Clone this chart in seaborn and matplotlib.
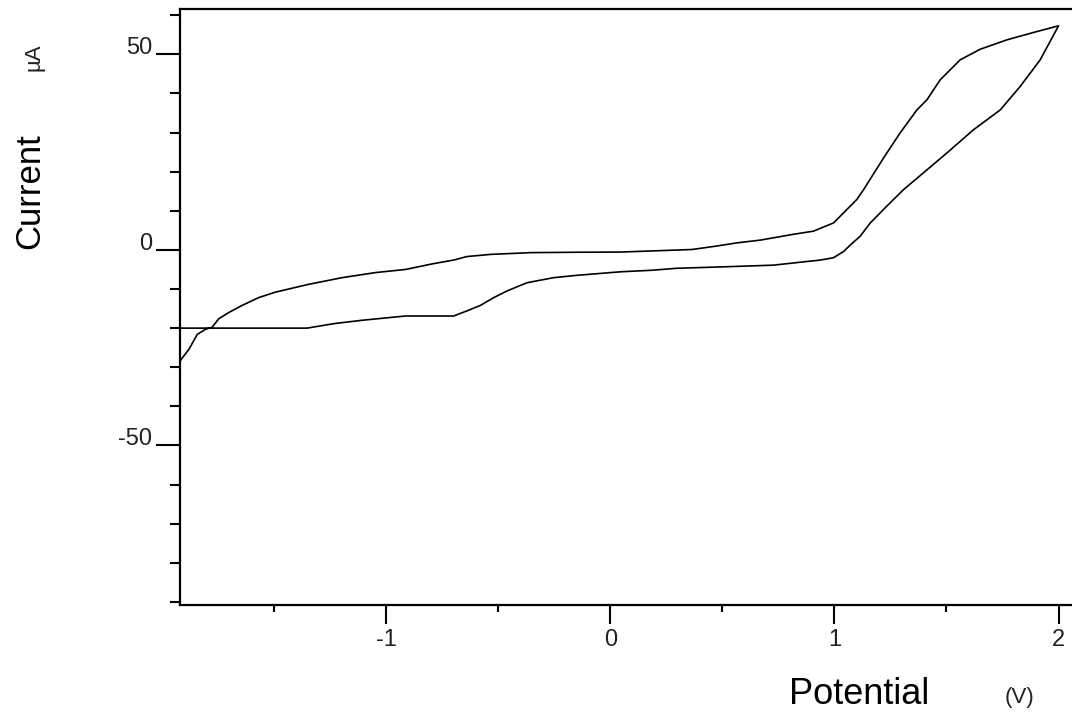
import matplotlib
matplotlib.use("Agg")
import matplotlib.pyplot as plt
from matplotlib.ticker import MultipleLocator
import numpy as np
import pandas as pd
import seaborn as sns

# Cyclic voltammogram: forward (anodic) sweep then reverse sweep
forward_potential = [-1.92, -1.88, -1.843, -1.806, -1.777, -1.747, -1.702, -1.643,
                     -1.569, -1.494, -1.346, -1.197, -1.048, -0.914, -0.788, -0.699,
                     -0.640, -0.535, -0.357, -0.150, 0.045, 0.364, 0.476, 0.565,
                     0.669, 0.818, 0.907, 0.996, 1.041, 1.100, 1.130, 1.219, 1.293,
                     1.368, 1.413, 1.472, 1.561, 1.650, 1.769, 1.888, 2.0]
forward_current = [-28.4, -25.4, -21.6, -20.3, -19.8, -17.6, -16.0, -14.2,
                   -12.2, -10.8, -8.8, -7.1, -5.8, -5.0, -3.5, -2.6,
                   -1.7, -1.15, -0.7, -0.6, -0.55, 0.1, 1.0, 1.8,
                   2.5, 4.0, 4.8, 6.9, 9.5, 12.9, 15.4, 23.5, 29.9,
                   35.8, 38.4, 43.5, 48.6, 51.3, 53.7, 55.6, 57.3]

reverse_potential = [1.918, 1.829, 1.740, 1.620, 1.502, 1.397, 1.308, 1.234,
                     1.160, 1.115, 1.070, 1.041, 0.996, 0.937, 0.855, 0.728,
                     0.520, 0.297, 0.186, 0.045, -0.149, -0.253, -0.372, -0.461,
                     -0.520, -0.580, -0.640, -0.699, -0.914, -1.108, -1.227,
                     -1.353, -1.92]
reverse_current = [48.6, 41.8, 35.8, 30.7, 24.8, 19.7, 15.4, 11.2,
                   6.9, 3.5, 1.2, -0.4, -2.0, -2.6, -3.1, -3.9,
                   -4.3, -4.7, -5.2, -5.6, -6.5, -7.1, -8.4, -10.5,
                   -12.2, -14.2, -15.6, -16.9, -16.9, -18.0, -18.8,
                   -20.0, -20.0]

y_major = [-50, 0, 50]
x_major = [-1, 0, 1, 2]

df = pd.DataFrame({
    "Potential": forward_potential + reverse_potential,
    "Current": forward_current + reverse_current,
})

sns.set_style("ticks")
plt.rcParams["font.family"] = ["Liberation Sans", "DejaVu Sans"]

fig = plt.figure(figsize=(10.72, 7.19), dpi=100)
ax = fig.add_axes([180 / 1072, 1 - 605 / 719, 1 - 180 / 1072, (605 - 9) / 719])

sns.lineplot(data=df, x="Potential", y="Current", sort=False, estimator=None,
             color="black", linewidth=1.2, ax=ax)

ax.set_xlim(-1.92, 2.06)
ax.set_ylim(-90.8, 61.6)

ax.set_xticks(x_major)
ax.set_xticklabels([str(v) for v in x_major])
ax.xaxis.set_minor_locator(MultipleLocator(0.5))
ax.set_yticks(y_major)
ax.set_yticklabels([str(v) for v in y_major])
ax.yaxis.set_minor_locator(MultipleLocator(10))

ax.tick_params(axis="both", which="both", direction="out", color="black",
               width=1.5, labelsize=17, labelcolor="#222222")
ax.tick_params(axis="y", which="major", length=17, pad=3)
ax.tick_params(axis="y", which="minor", length=7)
ax.tick_params(axis="x", which="major", length=14, pad=3)
ax.tick_params(axis="x", which="minor", length=5)
for lab in ax.get_yticklabels():
    lab.set_verticalalignment("baseline")

for side in ("left", "bottom", "top"):
    ax.spines[side].set_linewidth(1.6)
    ax.spines[side].set_color("black")
ax.spines["right"].set_visible(False)

ax.set_xlabel("")
ax.set_ylabel("")

fig.text(30 / 1072, 1 - 191 / 719, "Current", rotation=90, fontsize=25,
         ha="center", va="center", color="black")
fig.text(34 / 1072, 1 - 57 / 719, "µA", rotation=90, fontsize=16,
         ha="center", va="center", color="#222222")
fig.text(859 / 1072, 1 - 695 / 719, "Potential", fontsize=26,
         ha="center", va="center", color="black")
fig.text(1019 / 1072, 1 - 697 / 719, "(V)", fontsize=16,
         ha="center", va="center", color="#222222")

fig.savefig("out.png", dpi=100, facecolor="white")
